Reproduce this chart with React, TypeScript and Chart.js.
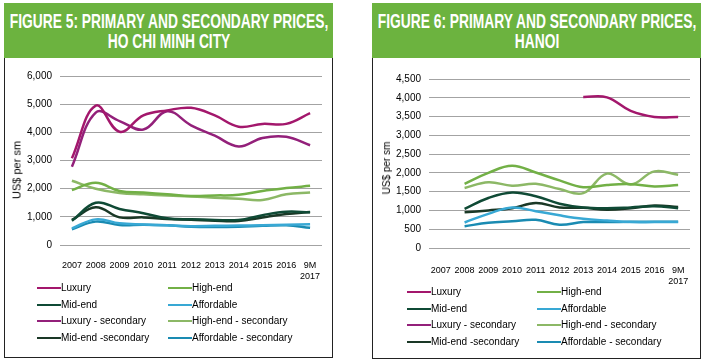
import React, { useEffect, useRef } from 'react';
import { Chart, registerables } from 'chart.js';
Chart.register(...registerables);

const categories: (string | string[])[] = ['2007', '2008', '2009', '2010', '2011', '2012', '2013', '2014', '2015', '2016', ['9M', '2017']];

const seriesLabels = ['Luxury', 'High-end', 'Mid-end', 'Affordable', 'Luxury - secondary', 'High-end - secondary', 'Mid-end -secondary', 'Affordable - secondary'];

// Ho Chi Minh City (US$ per sm)
const hcmcLuxury = [3080, 4950, 4020, 4600, 4780, 4870, 4600, 4200, 4300, 4300, 4680];
const hcmcHighEnd = [1950, 2210, 1920, 1860, 1800, 1740, 1760, 1780, 1920, 2020, 2100];
const hcmcMidEnd = [860, 1500, 1280, 1130, 950, 910, 890, 890, 1060, 1180, 1160];
const hcmcAffordable = [590, 910, 770, 730, 700, 670, 680, 690, 700, 720, 740];
const hcmcLuxurySecondary = [2780, 4700, 4400, 4100, 4750, 4250, 3880, 3500, 3800, 3840, 3540];
const hcmcHighEndSecondary = [2280, 2000, 1850, 1800, 1760, 1720, 1680, 1640, 1600, 1800, 1860];
const hcmcMidEndSecondary = [890, 1340, 980, 980, 920, 900, 860, 850, 980, 1100, 1170];
const hcmcAffordableSecondary = [560, 830, 710, 720, 700, 650, 640, 650, 680, 700, 610];

// Hanoi (US$ per sm)
const hanoiLuxury = [null, null, null, null, null, null, 4020, 4010, 3650, 3490, 3490];
const hanoiHighEnd = [null, 1710, 2000, 2190, 2010, 1800, 1620, 1680, 1700, 1640, 1680];
const hanoiMidEnd = [null, 1040, 1330, 1480, 1380, 1180, 1080, 1060, 1080, 1110, 1060];
const hanoiAffordable = [null, 680, 910, 1080, 980, 870, 780, 730, 690, 690, 690];
const hanoiLuxurySecondary = [null, null, null, null, null, null, null, null, null, null, null];
const hanoiHighEndSecondary = [null, 1600, 1750, 1660, 1710, 1570, 1460, 1980, 1690, 2040, 1950];
const hanoiMidEndSecondary = [null, 950, 1000, 1060, 1200, 1080, 1070, 1020, 1060, 1130, 1090];
const hanoiAffordableSecondary = [null, 580, 670, 710, 750, 620, 690, 690, 700, 700, 700];

const hcmcTicksMax = 6000;
const hcmcTicksStep = 1000;
const hanoiTicksMax = 4500;
const hanoiTicksStep = 500;

const seriesColors = ['#a3176c', '#72b046', '#0f4a35', '#38a8d4', '#93207a', '#8cb866', '#1a3826', '#1a8bb2'];

const FONT = "'Liberation Sans', Arial, sans-serif";

type LCProps = {
  left: number; top: number; width: number; height: number;
  values: (number | null)[][]; yMax: number; yStep: number;
  padTop: number; padRight: number; yWidth: number; xHeight: number; xPad: number;
};

function LineChart(p: LCProps) {
  const ref = useRef<HTMLCanvasElement>(null);
  useEffect(() => {
    const chart = new Chart(ref.current!, {
      type: 'line',
      data: {
        labels: categories as any,
        datasets: p.values.map((v, i) => ({
          label: seriesLabels[i],
          data: v,
          borderColor: seriesColors[i],
          backgroundColor: seriesColors[i],
          borderWidth: 2.5,
          pointRadius: 0,
          tension: 0.4,
          fill: false,
          spanGaps: false,
        })),
      },
      options: {
        responsive: false,
        animation: false,
        layout: { padding: { top: p.padTop, right: p.padRight, left: 0, bottom: 0 } },
        plugins: { legend: { display: false }, tooltip: { enabled: false } },
        scales: {
          x: {
            type: 'category',
            offset: true,
            grid: { display: false },
            border: { display: false },
            ticks: { autoSkip: false, maxRotation: 0, minRotation: 0, padding: p.xPad, color: '#000', font: { family: FONT, size: 9 } },
            afterFit: (s: any) => { s.height = p.xHeight; },
          },
          y: {
            min: 0,
            max: p.yMax,
            ticks: { stepSize: p.yStep, padding: 8, color: '#000', font: { family: FONT, size: 10 } },
            grid: { color: '#a3a3a3', drawTicks: false, lineWidth: 1 },
            border: { display: false },
            afterFit: (s: any) => { s.width = p.yWidth; },
          },
        },
      } as any,
    });
    return () => chart.destroy();
  }, []);
  return (
    <canvas ref={ref} width={p.width} height={p.height}
      style={{ position: 'absolute', left: p.left, top: p.top, width: p.width, height: p.height, display: 'block' }} />
  );
}

function Header({ left, width, lines }: { left: number; width: number; lines: string[] }) {
  return (
    <div style={{ position: 'absolute', left, top: 3, width, height: 55, background: '#6cb33f' }}>
      {lines.map((t, i) => (
        <div key={i} style={{
          position: 'absolute', left: '50%', top: 8 + i * 20, lineHeight: '20px', whiteSpace: 'nowrap',
          fontFamily: FONT, fontWeight: 'bold', fontSize: 20, color: '#fff',
          transform: 'translateX(-50%) scaleX(0.69)',
        }}>{t}</div>
      ))}
    </div>
  );
}

function Legend({ col1, col2, rows }: { col1: number; col2: number; rows: number[] }) {
  const items = seriesLabels.map((lab, i) => {
    const col = i % 2 === 0 ? col1 : col2;
    const row = rows[Math.floor(i / 2)];
    return (
      <div key={i} style={{ position: 'absolute', left: col, top: row - 7, height: 14, display: 'flex', alignItems: 'center', whiteSpace: 'nowrap' }}>
        <div style={{ width: 24, height: 2, background: seriesColors[i] }} />
        <span style={{ fontFamily: FONT, fontSize: 10, color: '#000', lineHeight: '14px' }}>{lab}</span>
      </div>
    );
  });
  return <>{items}</>;
}

function YTitle({ cx, cy, size }: { cx: number; cy: number; size: number }) {
  return (
    <div style={{
      position: 'absolute', left: cx, top: cy, whiteSpace: 'nowrap', fontFamily: FONT, fontSize: size, color: '#000',
      transform: 'translate(-50%, -50%) rotate(-90deg)', lineHeight: '1',
    }}>US$ per sm</div>
  );
}

export default function App() {
  return (
    <div style={{ position: 'absolute', left: 0, top: 0, width: 704, height: 361, background: '#fff', overflow: 'hidden' }}>
      {/* Left panel */}
      <Header left={4} width={329} lines={['FIGURE 5: PRIMARY AND SECONDARY PRICES,', 'HO CHI MINH CITY']} />
      <div style={{ position: 'absolute', left: 4, top: 58, width: 329, height: 300, boxSizing: 'border-box', border: '1px solid #222', borderTop: 'none' }} />
      <LineChart left={4} top={58} width={328} height={240}
        values={[hcmcLuxury, hcmcHighEnd, hcmcMidEnd, hcmcAffordable, hcmcLuxurySecondary, hcmcHighEndSecondary, hcmcMidEndSecondary, hcmcAffordableSecondary]}
        yMax={hcmcTicksMax} yStep={hcmcTicksStep} padTop={18} padRight={10} yWidth={56} xHeight={53} xPad={7} />
      <YTitle cx={17} cy={170} size={11} />
      <Legend col1={37} col2={168} rows={[288, 305, 321, 338]} />

      {/* Right panel */}
      <Header left={372} width={329} lines={['FIGURE 6: PRIMARY AND SECONDARY PRICES,', 'HANOI']} />
      <div style={{ position: 'absolute', left: 372, top: 58, width: 329, height: 301, boxSizing: 'border-box', border: '1px solid #222', borderTop: 'none' }} />
      <LineChart left={372} top={58} width={328} height={240}
        values={[hanoiLuxury, hanoiHighEnd, hanoiMidEnd, hanoiAffordable, hanoiLuxurySecondary, hanoiHighEndSecondary, hanoiMidEndSecondary, hanoiAffordableSecondary]}
        yMax={hanoiTicksMax} yStep={hanoiTicksStep} padTop={21} padRight={10} yWidth={57} xHeight={50} xPad={9} />
      <YTitle cx={387} cy={168} size={10} />
      <Legend col1={407} col2={537} rows={[292, 309, 325, 342]} />
    </div>
  );
}
